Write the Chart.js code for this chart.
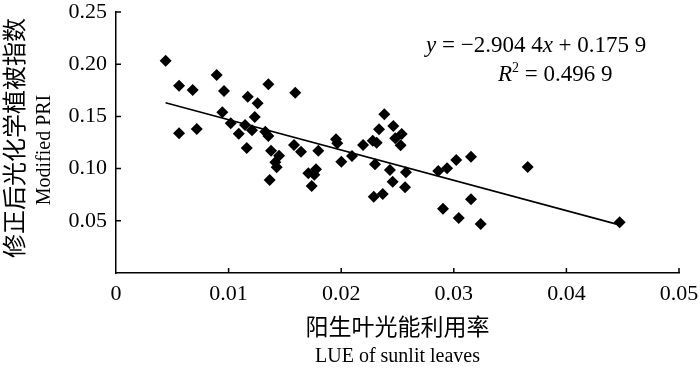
<!DOCTYPE html>
<html>
<head>
<meta charset="utf-8">
<script src="https://cdn.jsdelivr.net/npm/chart.js@4"></script>
<style>
  html, body { margin: 0; padding: 0; background: #fff; }
  canvas { display: block; }
</style>
</head>
<body>
<canvas id="lueChart" width="700" height="374"></canvas>
<script>
// values
const lueX = [0.00441, 0.00560, 0.00681, 0.00894, 0.00959, 0.01353, 0.01170, 0.01258, 0.01592, 0.00944,
  0.01232, 0.00560, 0.00717, 0.01019, 0.01146, 0.01090, 0.01208, 0.01326, 0.01353, 0.01161,
  0.01377, 0.01448, 0.01581, 0.01643, 0.01415, 0.01427, 0.01365, 0.01797, 0.01708, 0.01776,
  0.01761, 0.01738, 0.01954, 0.01965, 0.02001, 0.02096, 0.02194, 0.02280, 0.02315, 0.02300,
  0.02383, 0.02336, 0.02463, 0.02480, 0.02433, 0.02457, 0.02369, 0.02289, 0.02537, 0.02528,
  0.02575, 0.02567, 0.02862, 0.02940, 0.03022, 0.03153, 0.03656, 0.03153, 0.02904, 0.03044,
  0.03239, 0.04473];
const priY = [0.2034, 0.1794, 0.1753, 0.1897, 0.1743, 0.1807, 0.1689, 0.1625, 0.1727, 0.1539,
  0.1494, 0.1338, 0.1379, 0.1434, 0.1418, 0.1334, 0.1367, 0.1353, 0.1312, 0.1197,
  0.1171, 0.1124, 0.1226, 0.1162, 0.1060, 0.1012, 0.0891, 0.1171, 0.0955, 0.0993,
  0.0942, 0.0833, 0.1281, 0.1242, 0.1066, 0.1121, 0.1226, 0.1267, 0.1248, 0.1041,
  0.1520, 0.1376, 0.1408, 0.1290, 0.0987, 0.0875, 0.0757, 0.0731, 0.1331, 0.1223,
  0.0965, 0.0821, 0.0977, 0.1003, 0.1082, 0.1114, 0.1015, 0.0706, 0.0616, 0.0527,
  0.0469, 0.0486];

// fitted line end points
const fitX = [0.0044, 0.0447];
const fitY = [0.1631, 0.0461];

const xTicks = [0, 0.01, 0.02, 0.03, 0.04, 0.05];
const yTicks = [0.05, 0.10, 0.15, 0.20, 0.25];

const serif = "'Liberation Serif', 'Noto Sans CJK SC', serif";

// draws the inward tick marks, axis titles and the equation
const extras = {
  id: 'extras',
  afterDraw(chart) {
    const c = chart.ctx;
    const xs = chart.scales.x, ys = chart.scales.y;
    const area = chart.chartArea;
    c.save();
    c.strokeStyle = '#000';
    c.lineWidth = 1.5;
    c.beginPath();
    xTicks.forEach(v => {
      if (v === 0) return;
      const px = xs.getPixelForValue(v);
      c.moveTo(px, area.bottom);
      c.lineTo(px, area.bottom - 5);
    });
    yTicks.forEach(v => {
      const py = ys.getPixelForValue(v);
      c.moveTo(area.left, py);
      c.lineTo(area.left + 5, py);
    });
    c.stroke();

    c.fillStyle = '#000';
    c.textAlign = 'center';
    c.textBaseline = 'middle';
    const midX = (area.left + area.right) / 2;
    c.font = "23px " + serif;
    c.fillText('阳生叶光能利用率', midX, 329);
    c.font = "20px " + serif;
    c.fillText('LUE of sunlit leaves', midX, 357);

    c.save();
    c.translate(17, 138);
    c.rotate(-Math.PI / 2);
    c.font = "24px " + serif;
    c.fillText('修正后光化学植被指数', 0, 0);
    c.restore();
    c.save();
    c.translate(45, 150);
    c.rotate(-Math.PI / 2);
    c.font = "20px " + serif;
    c.fillText('Modified PRI', 0, 0);
    c.restore();

    // equation pieces, italic where the picture is italic
    c.textAlign = 'left';
    c.textBaseline = 'alphabetic';
    function pieces(x, y, parts) {
      parts.forEach(p => {
        c.font = p[1] + " " + serif;
        c.fillText(p[0], x, y + (p[2] || 0));
        x += c.measureText(p[0]).width;
      });
    }
    pieces(426, 52, [['y', 'italic 23px'], [' = −2.904 4', '23px'], ['x', 'italic 23px'], [' + 0.175 9', '23px']]);
    pieces(498, 81, [['R', 'italic 23px'], ['2', '14px', -9], [' = 0.496 9', '23px']]);
    c.restore();
  }
};

const ctx = document.getElementById('lueChart').getContext('2d');
const chart = new Chart(ctx, {
  type: 'scatter',
  data: {
    datasets: [{
      data: lueX.map((x, i) => ({ x: x, y: priY[i] })),
      pointStyle: 'rectRot',
      pointRadius: 6,
      backgroundColor: '#000',
      borderWidth: 0
    }, {
      type: 'line',
      data: fitX.map((x, i) => ({ x: x, y: fitY[i] })),
      borderColor: '#000',
      borderWidth: 1.6,
      pointRadius: 0,
      fill: false
    }]
  },
  options: {
    responsive: false,
    animation: false,
    layout: { padding: { top: 12, right: 21, left: 0, bottom: 0 } },
    plugins: { legend: { display: false }, tooltip: { enabled: false } },
    scales: {
      x: {
        type: 'linear',
        min: 0,
        max: 0.05,
        afterBuildTicks: s => { s.ticks = xTicks.map(v => ({ value: v })); },
        afterFit: s => { s.height = 101; s.paddingLeft = 0; s.paddingRight = 0; },
        grid: { display: false, drawTicks: false },
        border: { display: true, color: '#000', width: 1.5 },
        ticks: {
          color: '#000',
          padding: 8,
          maxRotation: 0,
          font: { family: serif, size: 22 },
          callback: v => v === 0 ? '0' : v.toFixed(2)
        }
      },
      y: {
        min: 0,
        max: 0.25,
        afterBuildTicks: s => { s.ticks = yTicks.map(v => ({ value: v })); },
        afterFit: s => { s.width = 116; s.paddingTop = 0; s.paddingBottom = 0; },
        grid: { display: false, drawTicks: false },
        border: { display: true, color: '#000', width: 1.5 },
        ticks: {
          color: '#000',
          padding: 9,
          font: { family: serif, size: 22 },
          callback: v => v.toFixed(2)
        }
      }
    }
  },
  plugins: [extras]
});
</script>
</body>
</html>
